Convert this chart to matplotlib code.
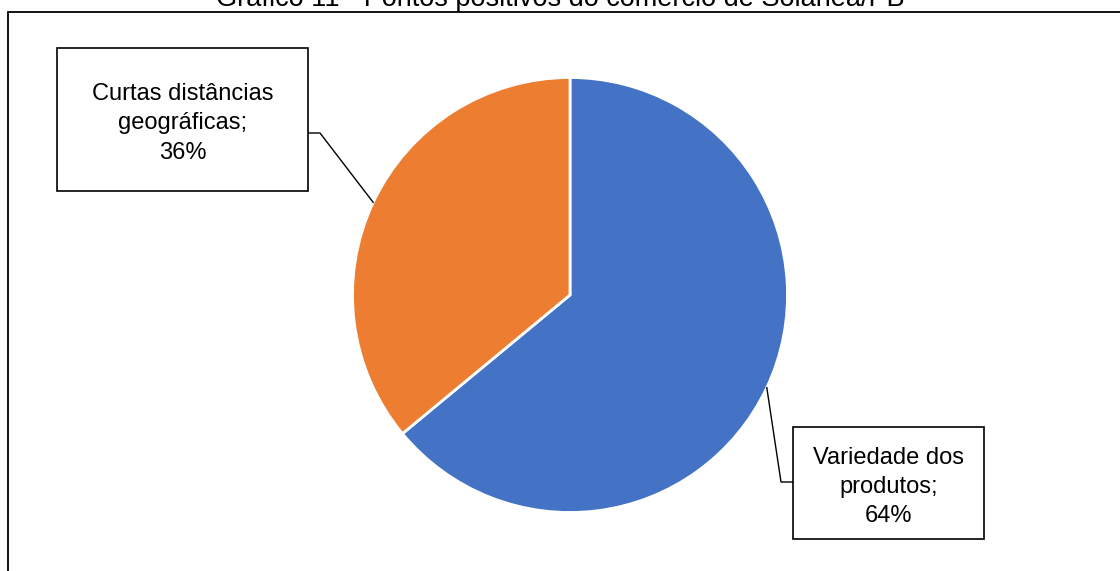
import numpy as np
import matplotlib.pyplot as plt
from matplotlib.patches import Rectangle

plt.rcParams['font.family'] = ['Liberation Sans', 'DejaVu Sans']

titulo = "Gráfico 11 - Pontos positivos do comércio de Solânea/PB"
categorias = ["Variedade dos\nprodutos", "Curtas distâncias\ngeográficas"]
valores = [64, 36]
cores = ["#4472C4", "#ED7D31"]

# caixas das etiquetas (x0, y0, x1, y1) em pixels, origem em baixo
caixas = [(793, 571 - 539, 984, 571 - 427), (57, 571 - 191, 308, 571 - 48)]
# cotovelo do conector de cada caixa
cotovelos = [(781, 571 - 482, 793), (320, 571 - 133, 308)]

W, H = 1120, 571
fig = plt.figure(figsize=(W / 100, H / 100), dpi=100)
ax = fig.add_axes([0, 0, 1, 1])

centro = (570, H - 295)
raio = 217.5
fatias, _ = ax.pie(valores, colors=cores, startangle=90, counterclock=False,
                   center=centro, radius=raio, frame=True,
                   wedgeprops=dict(edgecolor="white", linewidth=2))
ax.set_xlim(0, W)
ax.set_ylim(0, H)
ax.set_aspect("equal")
ax.axis("off")

for fatia, nome, v, cx, cot in zip(fatias, categorias, valores, caixas, cotovelos):
    x0, y0, x1, y1 = cx
    ax.add_patch(Rectangle((x0, y0), x1 - x0, y1 - y0, facecolor="white",
                           edgecolor="black", linewidth=1.2, zorder=4))
    ax.text((x0 + x1) / 2, (y0 + y1) / 2 - 4, f"{nome};\n{v}%",
            ha="center", va="center", fontsize=17, linespacing=1.43, zorder=5)
    ang = np.deg2rad((fatia.theta1 + fatia.theta2) / 2)
    px = centro[0] + raio * np.cos(ang)
    py = centro[1] + raio * np.sin(ang)
    ax.plot([px, cot[0], cot[2]], [py, cot[1], cot[1]], color="black",
            linewidth=1.0, zorder=3)

# moldura da área do gráfico
fig.patches.append(Rectangle((8 / W, -0.2), 1.5, 1.2 - 11.5 / H,
                             transform=fig.transFigure, fill=False,
                             edgecolor="black", linewidth=1.3))

fig.text(0.5, 1 - 6 / H, titulo, ha="center", va="baseline", fontsize=19.5)

fig.savefig("out.png", dpi=100)
